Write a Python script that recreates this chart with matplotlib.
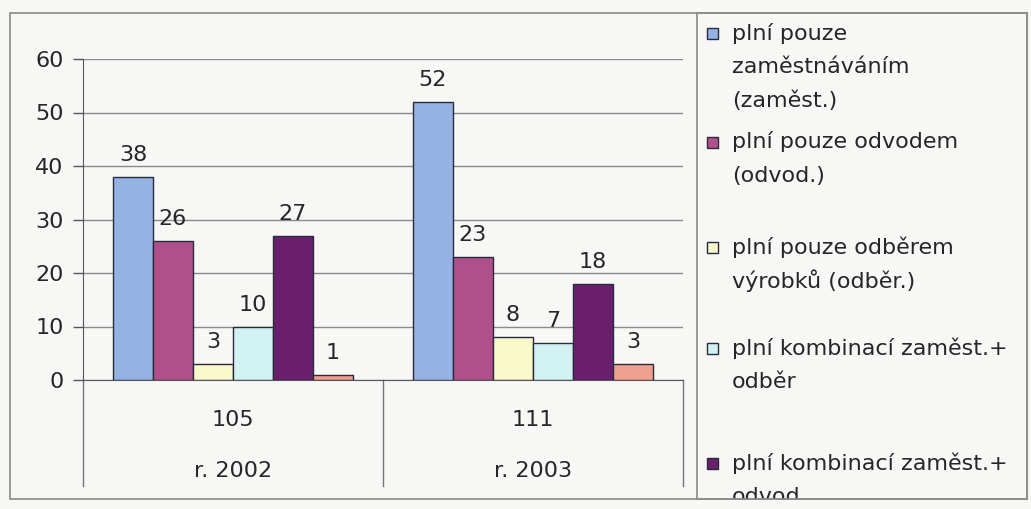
import numpy as np
import matplotlib.pyplot as plt
from matplotlib.patches import Rectangle
from matplotlib.transforms import blended_transform_factory

plt.rcParams['font.family'] = ['DejaVu Sans']

# data
roky = ['r. 2002', 'r. 2003']
celkem = [105, 111]
zamest = [38, 52]
odvod = [26, 23]
odber = [3, 8]
zamest_odber = [10, 7]
zamest_odvod = [27, 18]
ostatni = [1, 3]
serie = [zamest, odvod, odber, zamest_odber, zamest_odvod, ostatni]

legenda = ['plní pouze\nzaměstnáváním\n(zaměst.)',
           'plní pouze odvodem\n(odvod.)',
           'plní pouze odběrem\nvýrobků (odběr.)',
           'plní kombinací zaměst.+\nodběr',
           'plní kombinací zaměst.+\nodvod']

barvy = ['#94b3e4', '#b0508a', '#f8f8c8', '#d2f2f2', '#6a1f6e', '#f2a08e']
okraj = '#2a2a3e'
pozadi = '#f7f7f5'
cara = '#8a8a8a'
text_barva = '#262626'
fs = 16

W, H = 1031, 509
fig = plt.figure(figsize=(W / 100, H / 100), dpi=100, facecolor=pozadi)

def fx(px):
    return px / W

def fy(py):
    return 1 - py / H

# plot area
ax = fig.add_axes([fx(83), fy(380), fx(683) - fx(83), fy(59) - fy(380)])
ax.set_facecolor('none')

x = np.arange(len(roky))
n = len(serie)
bw = 0.8 / n
for i, vals in enumerate(serie):
    pos = x - 0.4 + bw * (i + 0.5)
    bars = ax.bar(pos, vals, bw, color=barvy[i], edgecolor=okraj, linewidth=1, zorder=3)
    for b, v in zip(bars, vals):
        ax.annotate(str(v), (b.get_x() + b.get_width() / 2, v), xytext=(0, 11.5),
                    textcoords='offset points', ha='center', va='baseline',
                    fontsize=fs, color=text_barva)

ax.set_xlim(-0.5, 1.5)
ax.set_ylim(0, 60)
ax.set_yticks(range(0, 61, 10))
ax.set_xticks([])
ax.yaxis.grid(True, color=cara, linewidth=1)
ax.set_axisbelow(True)
ax.tick_params(axis='y', length=7, width=1, color='#555555', pad=7, labelsize=fs, labelcolor=text_barva)
for s in ['top', 'right']:
    ax.spines[s].set_visible(False)
ax.spines['left'].set_color('#555555')
ax.spines['bottom'].set_color('#555555')

# two-level category axis
tr = blended_transform_factory(ax.transData, ax.transAxes)
for xi, rok, c in zip(x, roky, celkem):
    ax.text(xi, -0.125, str(c), transform=tr, ha='center', va='center', fontsize=fs, color=text_barva)
    ax.text(xi, -0.285, rok, transform=tr, ha='center', va='center', fontsize=fs, color=text_barva)
for xs in [-0.5, 0.5, 1.5]:
    ax.plot([xs, xs], [0, -0.33], transform=tr, color='#777777', linewidth=1, clip_on=False)

# chart frame
fig.add_artist(Rectangle((fx(10), fy(499)), fx(1027) - fx(10), fy(13) - fy(499),
                         transform=fig.transFigure, fill=False, edgecolor=cara, linewidth=1.2))

# legend box
lax = fig.add_axes([fx(697), fy(499), fx(1027) - fx(697), fy(13) - fy(499)])
lax.set_xlim(697, 1027)
lax.set_ylim(499, 13)
lax.set_xticks([])
lax.set_yticks([])
lax.set_facecolor('none')
for s in lax.spines.values():
    s.set_color(cara)
    s.set_linewidth(1.2)

radky = [33, 142, 247, 348, 463]
for y0, lab, col in zip(radky, legenda, barvy):
    lax.add_patch(Rectangle((707, y0 - 5.5), 11, 11, facecolor=col, edgecolor=okraj, linewidth=1))
    for j, t in enumerate(lab.split('\n')):
        lax.text(732, y0 + j * 34, t, ha='left', va='center', fontsize=fs,
                 color=text_barva, clip_on=True)

fig.savefig('out.png', dpi=100, facecolor=pozadi)
